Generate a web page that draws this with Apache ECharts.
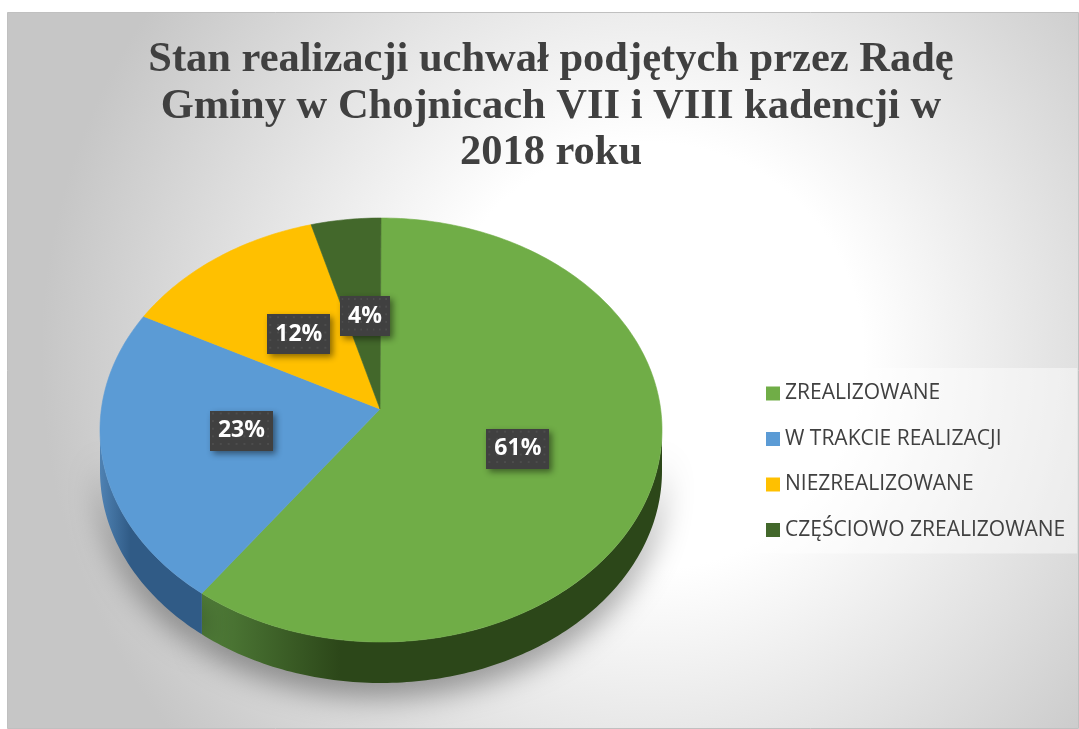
<!DOCTYPE html>
<html lang="pl">
<head>
<meta charset="UTF-8">
<title>Stan realizacji uchwał</title>
<script src="https://cdn.jsdelivr.net/npm/echarts@6/dist/echarts.min.js"></script>
<style>
  html, body { margin: 0; padding: 0; background: #fff; }
  #main { width: 1079px; height: 729px; }
</style>
</head>
<body>
<div id="main"></div>
<script type="text/javascript">
var categories = ['ZREALIZOWANE', 'W TRAKCIE REALIZACJI', 'NIEZREALIZOWANE', 'CZĘŚCIOWO ZREALIZOWANE'];
var values = [61, 23, 12, 4];
var colors = ['#70ad47', '#5b9bd5', '#ffc000', '#43682b'];
// boki "3D" (jasniej -> ciemniej)
var sideColors = [['#52803a', '#2c4719'], ['#4f82b3', '#305b86'], ['#bf9000', '#a07800'], ['#33501f', '#2a421a']];

// geometria pseudo-3D: elipsa + grubosc
var apexX = 380, apexY = 409;
var cx = 381, cy = 430, rx = 281, ry = 212, depth = 41;
// punkt odniesienia dla etykiet
var labX = 383, labY = 415;

var total = values.reduce(function (a, b) { return a + b; }, 0);
var starts = [];
var acc = 0;
for (var i = 0; i < values.length; i++) {
  starts.push(acc / total * 360);
  acc += values[i];
}

// tlo etykiet - ciemne z kropkami
var dots = document.createElement('canvas');
dots.width = 64; dots.height = 42;
(function () {
  var g = dots.getContext('2d');
  g.fillStyle = '#404040';
  g.fillRect(0, 0, 64, 42);
  g.fillStyle = '#4d4d4d';
  for (var y = 2; y < 42; y += 8) {
    for (var x = 2; x < 64; x += 8) g.fillRect(x, y, 2, 2);
  }
})();

// kat liczony od godziny 12, zgodnie z ruchem wskazowek
function pt(deg, dy) {
  var a = deg * Math.PI / 180;
  return [cx + rx * Math.sin(a), cy - ry * Math.cos(a) + (dy || 0)];
}
function arc(a1, a2, dy) {
  var pts = [];
  var n = Math.max(2, Math.ceil(Math.abs(a2 - a1)));
  for (var k = 0; k <= n; k++) pts.push(pt(a1 + (a2 - a1) * k / n, dy));
  return pts;
}

function renderSide(params, api) {
  var i = params.dataIndex;
  var a1 = starts[i], a2 = a1 + api.value(0) / total * 360;
  var s = Math.max(a1, 90), e = Math.min(a2, 270);
  if (e <= s) return null;
  var pts = arc(s, e, 0).concat(arc(e, s, depth));
  return {
    type: 'polygon',
    shape: { points: pts },
    style: {
      fill: {
        type: 'linear', x: 1, y: 0, x2: 0, y2: 0,
        colorStops: [
          { offset: 0, color: sideColors[i][1] },
          { offset: 0.7, color: sideColors[i][1] },
          { offset: 1, color: sideColors[i][0] }
        ]
      },
      shadowBlur: 30,
      shadowColor: 'rgba(0,0,0,0.38)',
      shadowOffsetY: 14
    }
  };
}

function makeTop(idx) {
  return function (params, api) {
    var a1 = starts[idx], span = api.value(0) / total * 360, a2 = a1 + span;
    var pts = [[apexX, apexY]].concat(arc(a1, a2, 0));
    var mid = (a1 + span / 2) * Math.PI / 180;
    var lx = labX + 0.51 * rx * Math.sin(mid);
    var ly = labY - 0.47 * ry * Math.cos(mid);
    return {
      type: 'group',
      children: [{
        type: 'polygon',
        shape: { points: pts },
        style: { fill: colors[idx], stroke: colors[idx], lineWidth: 0.6 }
      }, {
        type: 'text',
        x: lx, y: ly, z2: 10,
        style: {
          text: Math.round(api.value(0) / total * 100) + '%',
          fill: '#ffffff',
          fontSize: 23,
          fontWeight: 'bold',
          fontFamily: 'Open Sans',
          align: 'center',
          verticalAlign: 'middle',
          backgroundColor: { image: dots },
          padding: [9, 8, 8, 8],
          shadowColor: 'rgba(0,0,0,0.45)',
          shadowBlur: 6,
          shadowOffsetX: 3,
          shadowOffsetY: 3
        }
      }]
    };
  };
}

var series = [{
  name: 'bok',
  type: 'custom',
  coordinateSystem: 'none',
  z: 1,
  silent: true,
  renderItem: renderSide,
  data: values
}];
for (var j = 0; j < categories.length; j++) {
  series.push({
    name: categories[j],
    type: 'custom',
    coordinateSystem: 'none',
    z: 2,
    silent: true,
    itemStyle: { color: colors[j] },
    renderItem: makeTop(j),
    data: [values[j]]
  });
}

var myChart = echarts.init(document.getElementById('main'));
var option = {
  animation: false,
  graphic: [{
    type: 'rect',
    left: 7, top: 12, z: -10, silent: true,
    shape: { width: 1071, height: 716 },
    style: {
      fill: {
        type: 'radial', x: 0.6, y: 0.48, r: 0.85,
        colorStops: [
          { offset: 0, color: '#ffffff' },
          { offset: 0.35, color: '#ffffff' },
          { offset: 1, color: '#c6c6c6' }
        ]
      },
      stroke: '#c0c0c0',
      lineWidth: 1
    }
  }],
  title: {
    text: 'Stan realizacji uchwał podjętych przez Radę\nGminy w Chojnicach VII i VIII kadencji w\n2018 roku',
    left: 546,
    top: 32,
    textAlign: 'center',
    padding: 5,
    textStyle: {
      fontFamily: 'Liberation Serif',
      fontWeight: 'bold',
      fontSize: 42.5,
      lineHeight: 46.5,
      color: '#404040'
    }
  },
  legend: {
    orient: 'vertical',
    left: 752,
    top: 368,
    data: categories,
    icon: 'rect',
    itemWidth: 14,
    itemHeight: 14,
    itemGap: 24.5,
    padding: [15, 12, 13, 14],
    backgroundColor: 'rgba(255,255,255,0.45)',
    selectedMode: false,
    textStyle: { color: '#404040', fontSize: 21, fontFamily: 'Open Sans' }
  },
  series: series
};
myChart.setOption(option);
</script>
</body>
</html>
